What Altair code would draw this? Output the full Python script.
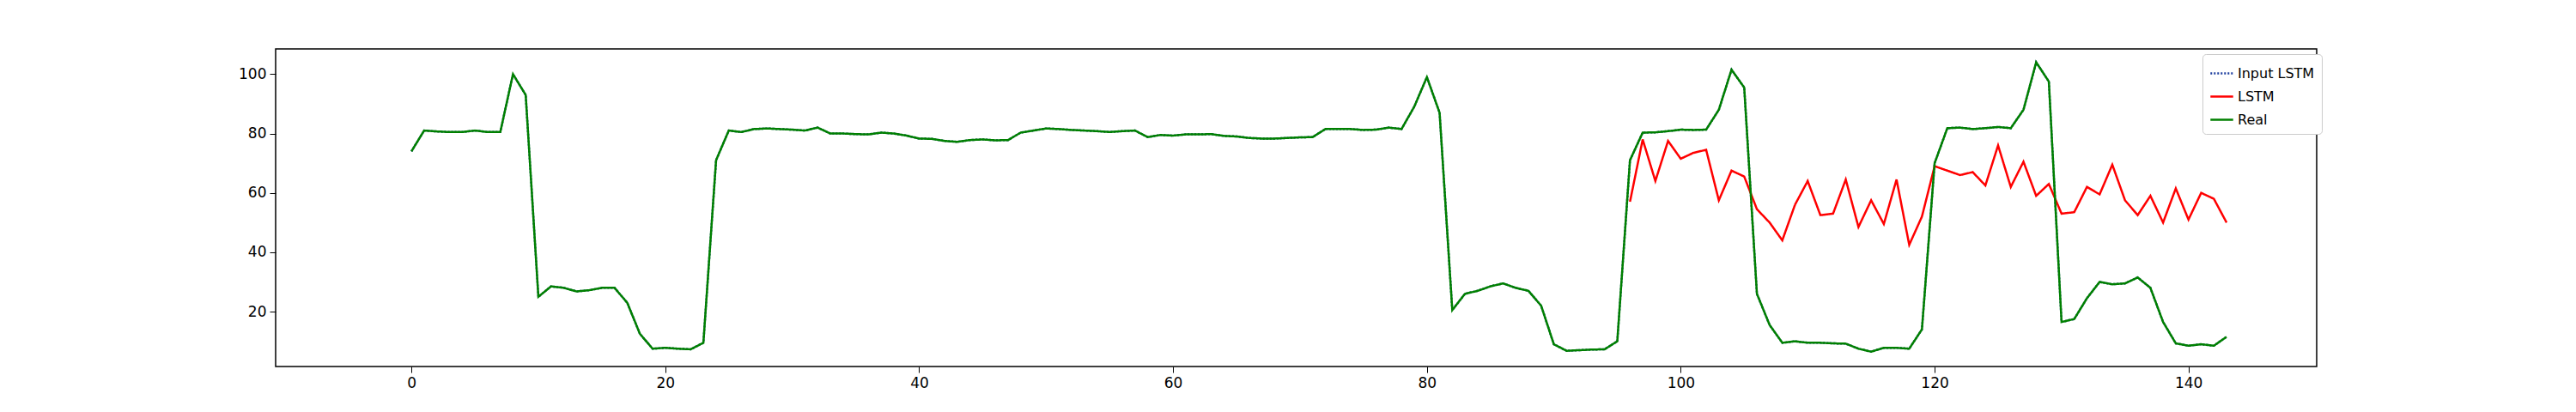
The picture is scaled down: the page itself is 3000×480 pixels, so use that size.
import altair as alt
import pandas as pd

real = [74,81,80.7,80.5,80.5,81,80.5,80.5,100,93,25,28.5,28,26.8,27.2,28,28,23,12.5,7.5,
7.8,7.5,7.3,9.5,71,81,80.5,81.5,81.7,81.5,81.3,81,82,80,80,79.8,79.7,80.3,80,79.3,
78.3,78.2,77.5,77.2,77.8,78,77.7,77.8,80.3,81,81.7,81.5,81.2,81,80.8,80.5,80.8,81,78.8,79.5,
79.3,79.7,79.7,79.8,79.2,79,78.5,78.3,78.3,78.5,78.7,78.8,81.5,81.5,81.5,81.2,81.3,82,81.5,89,
99,87,20.5,26,27,28.5,29.5,28,27,22,9,6.8,7,7.2,7.3,10,71,80.3,80.4,80.8,
81.3,81.2,81.3,88,101.5,95.5,26,15.5,9.5,10,9.5,9.5,9.3,9.2,7.5,6.5,7.8,7.8,7.5,14,
70,81.8,82,81.5,81.8,82.2,81.8,88,104,97.5,16.5,17.5,24.5,30,29.2,29.5,31.5,28,16.5,9.3,
8.5,9,8.5,11.5]
lstm_start = 96
lstm = [57,78,64,77.5,71.5,73.5,74.5,57.5,67.5,65.5,54.5,50,44,56,64,52.5,53,64.5,48.5,57.5,
49.5,64.5,42.5,52,69,67.5,66,67,62.5,76,62,70.5,59,63,53,53.5,62,59.5,69.5,57.5,
52.5,59,50,61.5,51,60,58,50]

rows = []
for i, v in enumerate(real):
    rows.append({"x": i, "y": v, "s": "Input LSTM"})
for i, v in enumerate(lstm):
    rows.append({"x": lstm_start + i, "y": v, "s": "LSTM"})
for i, v in enumerate(real):
    rows.append({"x": i, "y": v, "s": "Real"})
df = pd.DataFrame(rows)
order = {"Input LSTM": 0, "LSTM": 1, "Real": 2}
df["o"] = df["s"].map(order)

dom = ["Input LSTM", "LSTM", "Real"]
chart = alt.Chart(df).mark_line(strokeWidth=2.5, clip=True).encode(
    x=alt.X("x:Q", scale=alt.Scale(domain=[-10.7, 150.1], nice=False, zero=False),
            axis=alt.Axis(values=list(range(0, 141, 20)), title=None, grid=False)),
    y=alt.Y("y:Q", scale=alt.Scale(domain=[1.5, 108.5], nice=False, zero=False),
            axis=alt.Axis(values=[20, 40, 60, 80, 100], title=None, grid=False)),
    color=alt.Color("s:N", scale=alt.Scale(domain=dom, range=["#1f3fa0", "red", "green"]),
                    legend=alt.Legend(title=None, orient="none", legendX=2244, legendY=6,
                                      symbolType="stroke", symbolStrokeWidth=2.5, symbolSize=700,
                                      labelFontSize=16, labelFont="DejaVu Sans", labelLimit=300,
                                      fillColor="white", strokeColor="#cccccc", padding=8,
                                      cornerRadius=4, rowPadding=4)),
    strokeDash=alt.StrokeDash("s:N", scale=alt.Scale(domain=dom, range=[[2, 2], [1, 0], [1, 0]]),
                              legend=None),
    order="o:Q",
    detail="s:N",
).properties(
    width=2377, height=370,
    autosize=alt.AutoSizeParams(type="none"),
    padding={"left": 313, "top": 49, "right": 290, "bottom": 45},
).configure_view(stroke="black", strokeWidth=1.5).configure_axis(
    labelFont="DejaVu Sans", labelFontSize=17, labelColor="black",
    tickColor="black", tickSize=7, domain=False, labelPadding=4,
)

chart.save("out.html", embed_options={"renderer": "svg", "actions": False})
